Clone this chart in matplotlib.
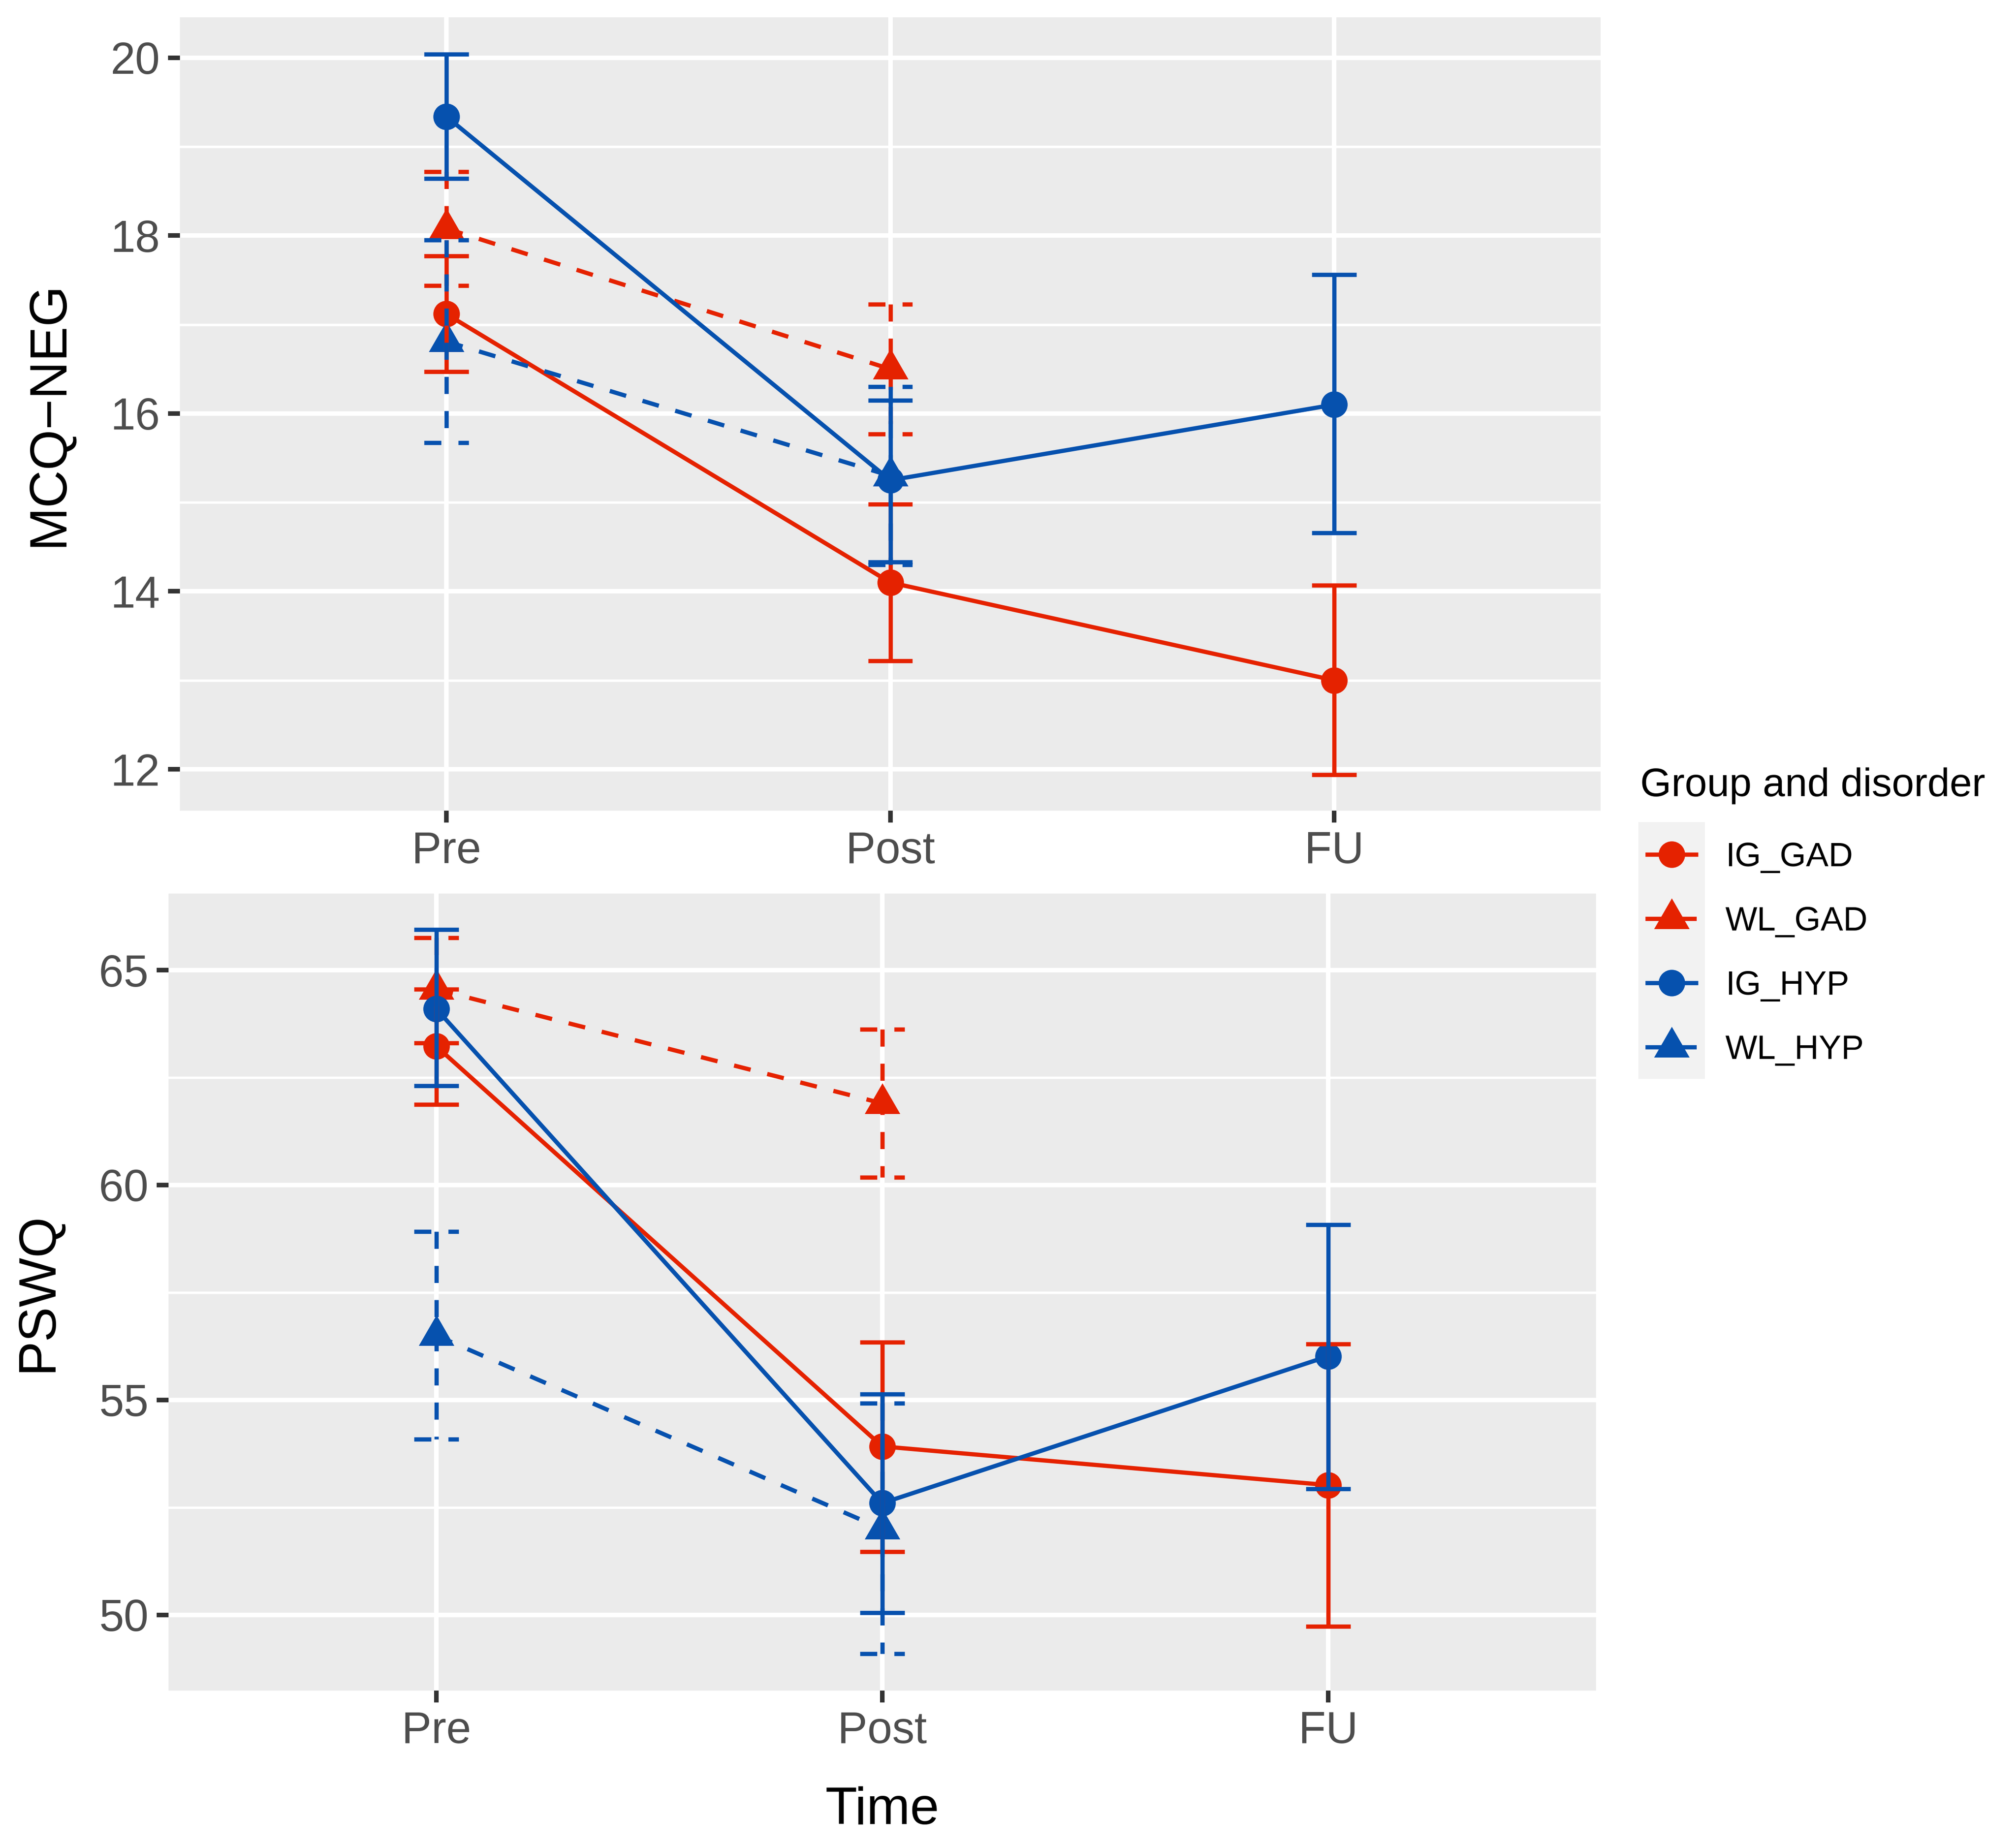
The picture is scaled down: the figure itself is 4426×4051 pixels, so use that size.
import matplotlib
matplotlib.use("Agg")
import matplotlib.pyplot as plt
import numpy as np

plt.rcParams['font.family'] = ['Liberation Sans', 'DejaVu Sans']

# ---------------- data ----------------
time_labels = ["Pre", "Post", "FU"]
group_names = ["IG_GAD", "WL_GAD", "IG_HYP", "WL_HYP"]
legend_title = "Group and disorder"
x_title = "Time"

# MCQ-NEG (top panel): means and error-bar limits
mcq_IG_GAD_mean = [17.12, 14.10, 13.00]
mcq_IG_GAD_lo   = [16.47, 13.22, 11.94]
mcq_IG_GAD_hi   = [17.77, 14.98, 14.07]
mcq_WL_GAD_mean = [18.08, 16.50]
mcq_WL_GAD_lo   = [17.44, 15.77]
mcq_WL_GAD_hi   = [18.72, 17.23]
mcq_IG_HYP_mean = [19.34, 15.25, 16.10]
mcq_IG_HYP_lo   = [18.64, 14.33, 14.66]
mcq_IG_HYP_hi   = [20.04, 16.15, 17.56]
mcq_WL_HYP_mean = [16.81, 15.30]
mcq_WL_HYP_lo   = [15.67, 14.30]
mcq_WL_HYP_hi   = [17.95, 16.30]

# PSWQ (bottom panel)
pswq_IG_GAD_mean = [63.23, 53.92, 53.02]
pswq_IG_GAD_lo   = [61.88, 51.47, 49.73]
pswq_IG_GAD_hi   = [64.55, 56.34, 56.30]
pswq_WL_GAD_mean = [64.55, 61.90]
pswq_WL_GAD_lo   = [63.30, 60.18]
pswq_WL_GAD_hi   = [65.75, 63.62]
pswq_IG_HYP_mean = [64.10, 52.60, 56.02]
pswq_IG_HYP_lo   = [62.31, 50.05, 52.93]
pswq_IG_HYP_hi   = [65.94, 55.14, 59.08]
pswq_WL_HYP_mean = [56.50, 52.00]
pswq_WL_HYP_lo   = [54.09, 49.10]
pswq_WL_HYP_hi   = [58.92, 54.92]

mcq_data = {
    "IG_GAD": (mcq_IG_GAD_mean, mcq_IG_GAD_lo, mcq_IG_GAD_hi),
    "WL_GAD": (mcq_WL_GAD_mean, mcq_WL_GAD_lo, mcq_WL_GAD_hi),
    "IG_HYP": (mcq_IG_HYP_mean, mcq_IG_HYP_lo, mcq_IG_HYP_hi),
    "WL_HYP": (mcq_WL_HYP_mean, mcq_WL_HYP_lo, mcq_WL_HYP_hi),
}
pswq_data = {
    "IG_GAD": (pswq_IG_GAD_mean, pswq_IG_GAD_lo, pswq_IG_GAD_hi),
    "WL_GAD": (pswq_WL_GAD_mean, pswq_WL_GAD_lo, pswq_WL_GAD_hi),
    "IG_HYP": (pswq_IG_HYP_mean, pswq_IG_HYP_lo, pswq_IG_HYP_hi),
    "WL_HYP": (pswq_WL_HYP_mean, pswq_WL_HYP_lo, pswq_WL_HYP_hi),
}

# ---------------- style ----------------
RED = "#E52200"
BLUE = "#0651AE"
TRI = [(0, 1), (-0.866, -0.5), (0.866, -0.5)]
DASH = (0, (4, 4))
style = {
    "IG_GAD": dict(color=RED, marker="o", ms=14, ls="-"),
    "WL_GAD": dict(color=RED, marker=TRI, ms=21.6, ls=DASH),
    "IG_HYP": dict(color=BLUE, marker="o", ms=14, ls="-"),
    "WL_HYP": dict(color=BLUE, marker=TRI, ms=21.6, ls=DASH),
}
LW = 2.25
CAP = 0.05

W, H = 4426, 4051
DPI = 300
fig = plt.figure(figsize=(W / DPI, H / DPI), dpi=DPI)
fig.patch.set_facecolor("white")


def fx(px):
    return px / W


def fy(py):
    return 1 - py / H


def draw_panel(ax, data, ylim, majors, minors):
    ax.set_facecolor("#EBEBEB")
    for s in ax.spines.values():
        s.set_visible(False)
    ax.set_xlim(0.4, 3.6)
    ax.set_ylim(*ylim)
    ax.set_xticks(np.arange(1, len(time_labels) + 1))
    ax.set_xticklabels(time_labels)
    ax.set_yticks(majors)
    ax.set_yticks(minors, minor=True)
    ax.grid(which="major", color="white", lw=2.4)
    ax.grid(which="minor", axis="y", color="white", lw=1.3)
    ax.set_axisbelow(True)
    ax.tick_params(which="major", length=6.2, width=2.4, color="#333333",
                   labelsize=23.5, labelcolor="#4D4D4D", pad=4.3)
    ax.tick_params(which="minor", length=0)
    # lines
    for g in group_names:
        m, lo, hi = data[g]
        st = style[g]
        x = np.arange(1, len(m) + 1)
        ax.plot(x, m, color=st["color"], ls=st["ls"], lw=LW, zorder=3,
                solid_capstyle="butt", dash_capstyle="butt")
    # points
    for g in group_names:
        m, lo, hi = data[g]
        st = style[g]
        x = np.arange(1, len(m) + 1)
        ax.plot(x, m, ls="none", marker=st["marker"], ms=st["ms"],
                color=st["color"], mec="none", zorder=4)
    # error bars (drawn as ggplot does: top cap, vertical, bottom cap)
    for g in group_names:
        m, lo, hi = data[g]
        st = style[g]
        for i in range(len(m)):
            xi = i + 1
            kw = dict(color=st["color"], ls=st["ls"], lw=LW, zorder=5,
                      solid_capstyle="butt", dash_capstyle="butt")
            ax.plot([xi - CAP, xi + CAP], [hi[i], hi[i]], **kw)
            ax.plot([xi, xi], [hi[i], lo[i]], **kw)
            ax.plot([xi - CAP, xi + CAP], [lo[i], lo[i]], **kw)


ax1 = fig.add_axes([fx(395), fy(1780), fx(3514) - fx(395), (1780 - 37.5) / H])
draw_panel(ax1, mcq_data, (11.534, 20.458), [12, 14, 16, 18, 20], [13, 15, 17, 19])

ax2 = fig.add_axes([fx(370), fy(3712), fx(3504) - fx(370), (3712 - 1962) / H])
draw_panel(ax2, pswq_data, (48.24, 66.78), [50, 55, 60, 65], [52.5, 57.5, 62.5])

# axis titles
fig.text(fx(137.5), fy(909), "MCQ\u2212NEG", rotation=90, rotation_mode="anchor",
         ha="center", va="baseline", fontsize=27.5, color="black")
fig.text(fx(114), fy(2837), "PSWQ", rotation=90, rotation_mode="anchor",
         ha="center", va="baseline", fontsize=27.5, color="black")
fig.text(fx(1937), fy(4005), x_title, ha="center", va="baseline",
         fontsize=27.5, color="black")

# legend
lax = fig.add_axes([fx(3597), fy(2369), (3743 - 3597) / W, (2369 - 1805) / H])
lax.set_facecolor("#F2F2F2")
for s in lax.spines.values():
    s.set_visible(False)
lax.set_xticks([])
lax.set_yticks([])
lax.set_xlim(0, 1)
lax.set_ylim(len(group_names), 0)
for i, g in enumerate(group_names):
    st = style[g]
    lax.plot([0.1, 0.9], [i + 0.5, i + 0.5], color=st["color"], ls=st["ls"],
             lw=LW, solid_capstyle="butt", dash_capstyle="butt")
    lax.plot([0.5], [i + 0.5], ls="none", marker=st["marker"], ms=st["ms"],
             color=st["color"], mec="none")
    yc = 1805 + (i + 0.5) * 141
    fig.text(fx(3788), fy(yc + 26.5), g, ha="left", va="baseline",
             fontsize=17.8, color="black")
fig.text(fx(3601), fy(1748), legend_title, ha="left", va="baseline",
         fontsize=21.1, color="black")

fig.savefig("out.png", dpi=DPI, facecolor="white")
